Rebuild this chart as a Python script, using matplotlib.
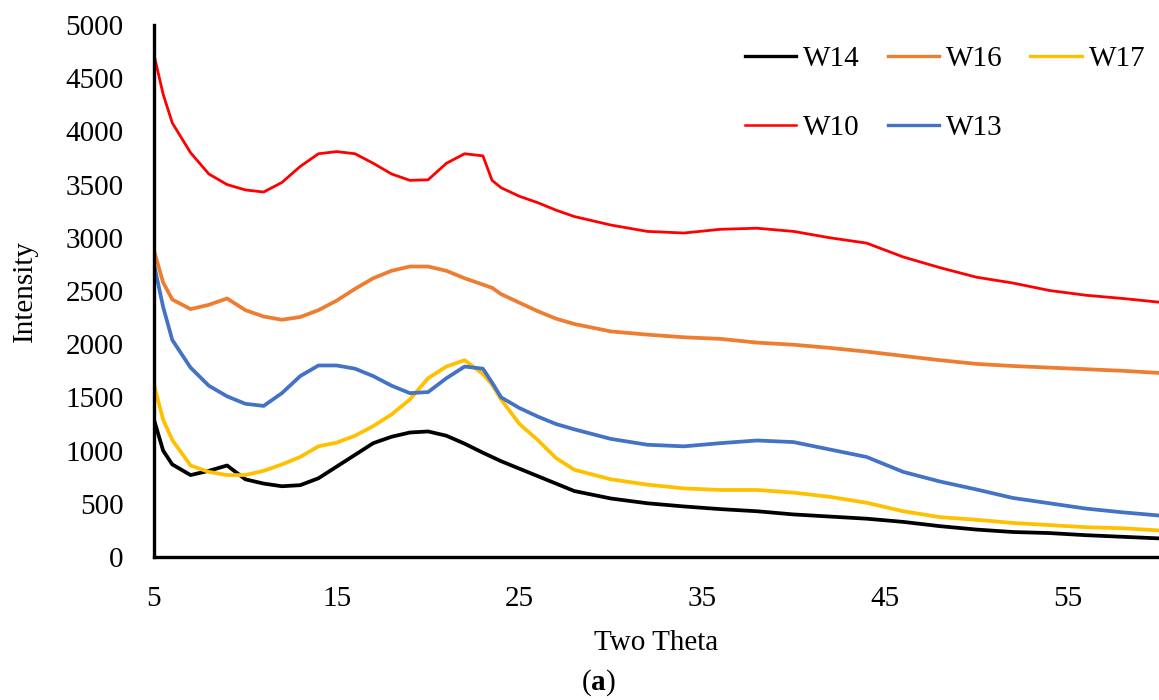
import matplotlib
matplotlib.use('Agg')
import matplotlib.pyplot as plt

# two-theta positions
two_theta = [5, 5.5, 6, 7, 8, 9, 10, 11, 12, 13, 14, 15, 16, 17, 18, 19, 20, 21, 22, 23,
             23.5, 24, 25, 26, 27, 28, 30, 32, 34, 36, 38, 40, 42, 44, 46, 48, 50, 52,
             54, 56, 58, 60]

w14 = [1290, 1000, 870, 770, 810, 860, 730, 690, 665, 675, 740, 850, 960, 1070, 1130, 1170,
       1180, 1140, 1065, 980, 940, 900, 830, 760, 690, 620, 550, 505, 475, 450, 430, 400,
       380, 360, 330, 290, 258, 235, 225, 205, 190, 175]
w16 = [2880, 2580, 2420, 2330, 2370, 2430, 2320, 2260, 2230, 2255, 2320, 2410, 2520, 2620,
       2690, 2730, 2730, 2690, 2620, 2560, 2530, 2470, 2390, 2310, 2240, 2190, 2120, 2090,
       2065, 2050, 2015, 1995, 1965, 1930, 1890, 1850, 1815, 1795, 1780, 1765, 1750, 1730]
w17 = [1620, 1290, 1100, 860, 800, 770, 770, 810, 870, 940, 1040, 1075, 1140, 1230, 1340,
       1480, 1680, 1790, 1850, 1720, 1620, 1480, 1250, 1100, 930, 820, 730, 680, 645, 630,
       630, 605, 565, 510, 430, 375, 350, 320, 300, 280, 270, 250]
w10 = [4720, 4350, 4080, 3800, 3600, 3500, 3450, 3430, 3520, 3670, 3790, 3810, 3790, 3700,
       3600, 3540, 3545, 3700, 3790, 3770, 3540, 3470, 3390, 3330, 3260, 3200, 3120, 3060,
       3045, 3080, 3090, 3060, 3000, 2950, 2820, 2720, 2630, 2575, 2505, 2460, 2430, 2395]
w13 = [2750, 2350, 2040, 1780, 1610, 1510, 1440, 1420, 1540, 1700, 1800, 1800, 1770, 1700,
       1610, 1540, 1550, 1680, 1790, 1770, 1640, 1500, 1400, 1320, 1250, 1200, 1110, 1055,
       1040, 1070, 1095, 1080, 1010, 940, 800, 710, 635, 555, 505, 455, 420, 390]

x_ticks = [5, 15, 25, 35, 45, 55]
y_ticks = [0, 500, 1000, 1500, 2000, 2500, 3000, 3500, 4000, 4500, 5000]

plt.rcParams['font.family'] = ['Liberation Serif', 'DejaVu Serif']
plt.rcParams['mathtext.fontset'] = 'custom'
plt.rcParams['mathtext.rm'] = 'Liberation Serif'
plt.rcParams['mathtext.bf'] = 'Liberation Serif:bold'

FS = 21


def main():
    fig = plt.figure(figsize=(11.59, 7), dpi=100)
    ax = fig.add_axes([154 / 1159, 1 - 557 / 700, 1005 / 1159, 532 / 700])

    l14, = ax.plot(two_theta, w14, color='#000000', lw=2.7, label='W14')
    l16, = ax.plot(two_theta, w16, color='#ED7D31', lw=2.7, label='W16')
    l17, = ax.plot(two_theta, w17, color='#FFC000', lw=2.7, label='W17')
    l10, = ax.plot(two_theta, w10, color='#FF0000', lw=2.0, label='W10')
    l13, = ax.plot(two_theta, w13, color='#4472C4', lw=2.7, label='W13')

    ax.set_xlim(5, 60)
    ax.set_ylim(0, 5000)
    ax.set_xticks(x_ticks)
    ax.set_yticks(y_ticks)
    ax.tick_params(length=0, labelsize=FS)
    ax.tick_params(axis='y', pad=22)
    ax.tick_params(axis='x', pad=21)

    for side in ['top', 'right']:
        ax.spines[side].set_visible(False)
    for side in ['left', 'bottom']:
        ax.spines[side].set_linewidth(2.4)

    ax.set_ylabel('Intensity', fontsize=FS, va='center')
    ax.yaxis.set_label_coords(-0.128, 0.5)
    ax.set_xlabel('Two Theta', fontsize=FS, va='center')
    ax.xaxis.set_label_coords(0.5, -0.162)

    # column-major fill -> rows: W14 W16 W17 / W10 W13
    handles = [l14, l10, l16, l13, l17]
    leg = fig.legend(handles=handles, labels=[h.get_label() for h in handles],
                     loc='upper left', bbox_to_anchor=(745 / 1159, 1 - 46 / 700),
                     ncol=3, frameon=False, fontsize=FS, borderpad=0, borderaxespad=0,
                     handlelength=1.75, handletextpad=0.25, columnspacing=0.95,
                     labelspacing=1.45)
    for line in leg.get_lines():
        line.set_linewidth(2.4 if line.get_color() != '#FF0000' else 1.8)

    fig.text(598 / 1159, 1 - 683 / 700, r'($\mathbf{a}$)', fontsize=FS,
             ha='center', va='center')

    fig.savefig('out.png', dpi=100)


if __name__ == "__main__":
    main()
